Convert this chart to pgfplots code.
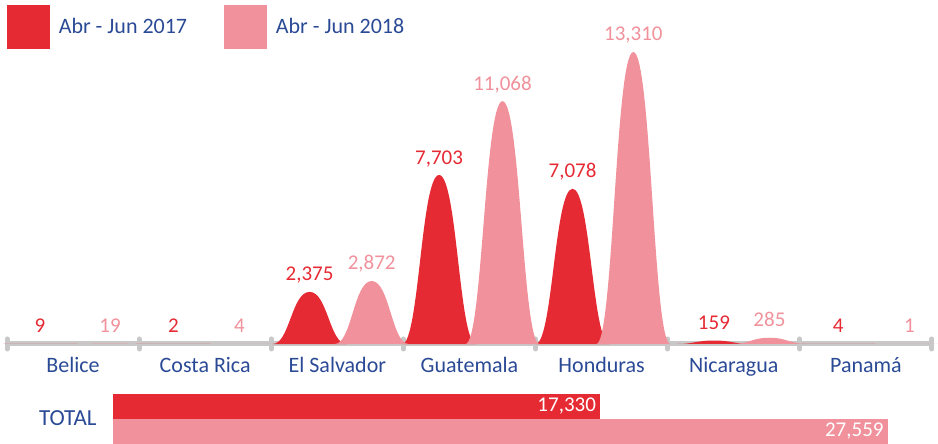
\documentclass[border=0pt]{standalone}
\usepackage{fontspec}
\setmainfont{Carlito}
\usepackage{pgfplots}
\usepackage{pgfplotstable}
\pgfplotsset{compat=1.18}

\definecolor{rojo}{HTML}{E52A34}
\definecolor{rosa}{HTML}{F0919B}
\definecolor{azul}{HTML}{2B4A96}
\definecolor{gris}{HTML}{C8C8C8}

% x = position of the peak (category i spans i..i+1), y = value
\pgfplotstableread{
x     y
0.25  9
1.26  2
2.29  2375
3.27  7703
4.28  7078
5.35  159
6.29  4
}\tabA
\pgfplotstableread{
x     y
0.78  19
1.76  4
2.76  2872
3.75  11068
4.74  13310
5.77  285
6.83  1
}\tabB

% pt per data unit on the main axis (172pt / 15680)
\newcommand\yu{0.010969}
% bell drawn downwards from the data point (the peak) to the baseline
\pgfdeclareplotmark{bell}{%
  \pgfmathsetmacro\bh{\rawy*\yu}%
  \pgfpathmoveto{\pgfqpoint{-18.5pt}{-\bh pt}}%
  \pgfpathcurveto{\pgfqpoint{-10pt}{-\bh pt}}{\pgfqpoint{-9pt}{0pt}}{\pgfqpoint{0pt}{0pt}}%
  \pgfpathcurveto{\pgfqpoint{9pt}{0pt}}{\pgfqpoint{10pt}{-\bh pt}}{\pgfqpoint{18.5pt}{-\bh pt}}%
  \pgfpathclose
  \pgfusepathqfill}

\pgfplotsset{
  bells/.style={scatter, only marks, mark=bell, draw=none, forget plot,
    scatter/@pre marker code/.code={}, scatter/@post marker code/.code={},
    visualization depends on={\thisrow{y} \as \rawy},
    point meta=\thisrow{y},
    nodes near coords,
    every node near coord/.append style={anchor=base, yshift=5.5pt, inner sep=0pt,
      font=\fontsize{10.5}{12}\selectfont}},
}

\begin{document}
\begin{tikzpicture}
\useasboundingbox (-3.5pt,-50pt) rectangle (465.5pt,172pt);
\begin{axis}[
  scale only axis, width=462.5pt, height=172pt,
  xmin=0, xmax=7, ymin=0, ymax=15680,
  clip=false,
  axis x line=bottom, axis y line=none,
  x axis line style={gris, line width=2.5pt, -},
  xtick={0.5,1.5,...,6.5},
  xticklabels={Belice,Costa Rica,El Salvador,Guatemala,Honduras,Nicaragua,Panamá},
  major tick length=0pt,
  major tick style={draw=none},
  minor xtick={0,1,...,7},
  minor tick length=5pt,
  tick align=center,
  minor tick style={gris, line width=2.5pt, line cap=round},
  xticklabel style={font=\fontsize{11}{13}\selectfont, text=azul, anchor=base,
    yshift=-14.25pt, inner sep=0pt},
  /pgf/number format/.cd, 1000 sep={,}, fixed, precision=0, assume math mode=true,
  /pgfplots/.cd,
  legend columns=2,
  legend style={at={(0,1)}, anchor=north west, yshift=-2.5pt, draw=none, fill=none,
    inner sep=0pt, outer sep=0pt, font=\fontsize{11}{13}\selectfont, text=azul,
    /tikz/every odd column/.append style={column sep=2.5pt},
    /tikz/every even column/.append style={column sep=16.5pt}},
]
\addplot[bells, fill=rojo, every node near coord/.append style={text=rojo}]
  table[x=x, y=y] {\tabA};
\addplot[bells, fill=rosa, every node near coord/.append style={text=rosa}]
  table[x=x, y=y] {\tabB};
\addlegendimage{legend image code/.code={\fill[rojo] (0pt,-10.75pt) rectangle (21pt,10.75pt);}}
\addlegendentry{Abr - Jun 2017}
\addlegendimage{legend image code/.code={\fill[rosa] (0pt,-10.75pt) rectangle (21pt,10.75pt);}}
\addlegendentry{Abr - Jun 2018}
\end{axis}

\begin{axis}[
  at={(53pt,-50pt)}, anchor=south west,
  scale only axis, width=393.68pt, height=25pt,
  xmin=0, xmax=28000, ymin=-0.5, ymax=1.5,
  clip=false,
  xbar, bar width=12.5pt,
  hide x axis,
  axis y line*=left, y axis line style={draw=none},
  ytick={0.55}, yticklabels={TOTAL},
  major tick length=0pt, major tick style={draw=none},
  yticklabel style={font=\fontsize{11.5}{13}\selectfont, text=azul, anchor=east,
    inner sep=0pt, xshift=-8pt},
  nodes near coords,
  every node near coord/.append style={anchor=east, text=white, inner sep=0pt,
    xshift=-2pt, font=\fontsize{10.5}{12}\selectfont},
  /pgf/number format/.cd, 1000 sep={,}, fixed, precision=0, assume math mode=true,
]
\addplot[fill=rojo, draw=none, bar shift=0pt] coordinates {(17330,1)};
\addplot[fill=rosa, draw=none, bar shift=0pt] coordinates {(27559,0)};
\end{axis}
\end{tikzpicture}
\end{document}
